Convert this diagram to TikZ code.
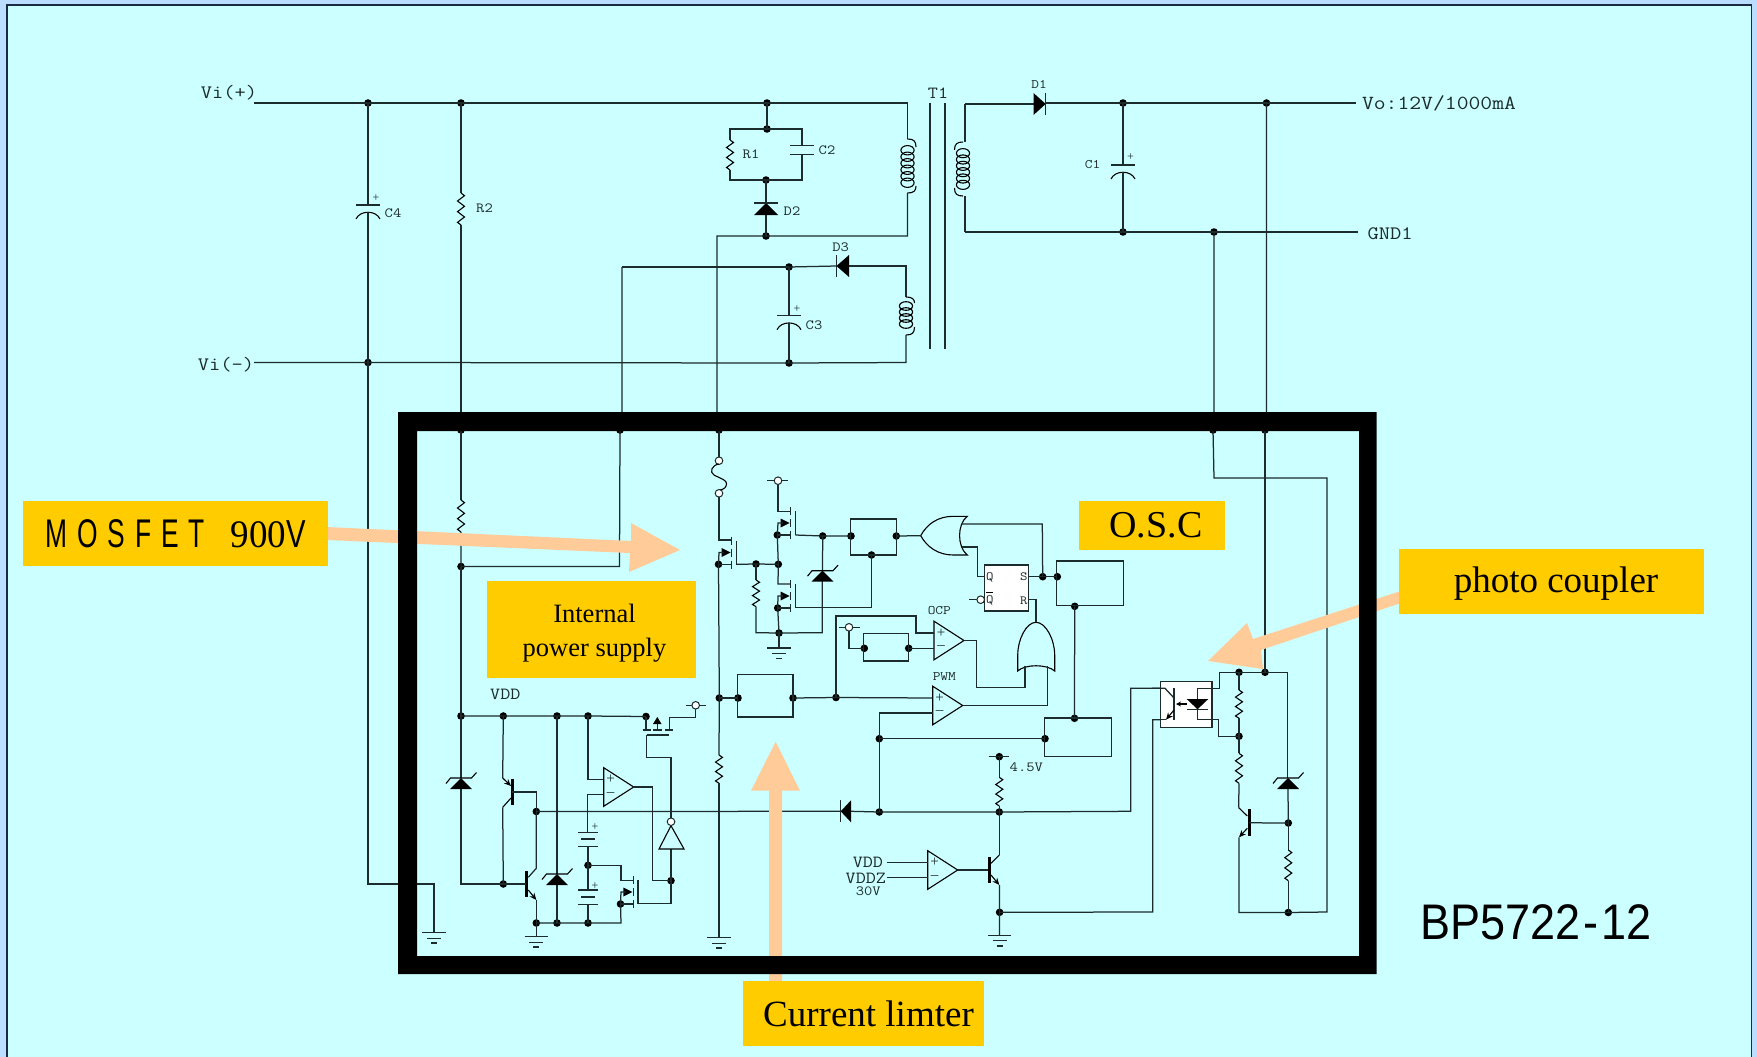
\documentclass[tikz,border=0pt]{standalone}
\usepackage{fontspec}
\setmainfont{Liberation Serif}
\newfontfamily\arialf{Liberation Sans}
\usetikzlibrary{arrows.meta}
\definecolor{pagebg}{HTML}{CCFFFF}
\definecolor{edgea}{HTML}{BBDDFF}
\definecolor{edgeline}{HTML}{1A2A40}
\definecolor{tagbox}{HTML}{FFCC00}
\definecolor{pointer}{HTML}{FFCC99}
\definecolor{ink}{HTML}{1C2B2B}
\tikzset{
  wire/.style={draw=ink,line width=1.25pt,line join=miter},
  rail/.style={draw=ink,line width=1.7pt},
  thin part/.style={draw=black,line width=1.1pt},
  lbl/.style={inner sep=0pt,outer sep=0pt,text=ink},
  tag/.style={fill=tagbox,draw=none,inner sep=0pt,outer sep=0pt,align=center,text=black},
  tagtext/.style={inner sep=0pt,outer sep=0pt,align=center,text=black},
  ptr/.style={fill=pointer,draw=none},
  whitebox/.style={fill=white,draw=ink,line width=1.3pt},
  bub/.style={fill=white,draw=ink,line width=1pt},
}
\newcommand\sMono[2]{{\fontsize{#1}{#1}\selectfont\ttfamily\scalebox{1.15}[1]{#2}}}
\newcommand\sJ[3]{\coordinate (#1) at (#2,#3); \fill[black] (#1) circle (3.8pt);}
\newcommand\sBub[2]{\draw[bub] (#1,#2) circle (3.8pt);}
\newcommand\sRes[3]{{\pgfmathsetmacro\st{(#3-#2)/6}%
  \draw[thin part] (#1,#2) -- ++(3.5,\st/2) -- ++(-7,\st) -- ++(7,\st) -- ++(-7,\st) -- ++(7,\st) -- ++(-7,\st) -- ++(3.5,\st/2);}}
\newcommand\sCoil[7]{%
  \draw[thin part] (#1,#3) .. controls ({#1+#2*6},#3) and ({#1+#2*8.5},{#3+2}) .. ({#1+#2*8.5},#5)
     ({#1+#2*8.5},#6) .. controls ({#1+#2*8.5},{#4-2}) and ({#1+#2*6},#4) .. (#1,#4);
  \foreach \i in {1,...,#7}{\pgfmathsetmacro\yy{#5+(\i-.5)*(#6-#5)/#7}\pgfmathsetmacro\ry{.72*(#6-#5)/#7}%
    \draw[thin part] (#1,\yy) ellipse (6.6pt and \ry pt);}}
\newcommand\sGnd[2]{\draw[wire] ({#1-11.7},#2) -- ({#1+11.7},#2) ({#1-7},{#2+5.5}) -- ({#1+7},{#2+5.5});
  \draw[draw=ink,line width=1.6pt] ({#1-3},{#2+10.5}) -- ({#1+3},{#2+10.5});}
\newcommand\sZen[2]{\fill[black] (#1,#2) -- ({#1+11},{#2+11}) -- ({#1-11},{#2+11}) -- cycle;
  \draw[thin part] ({#1-15},{#2+5.5}) -- ({#1-10.5},#2) -- ({#1+10.5},#2) -- ({#1+15.5},{#2-5.5});}
\newcommand\sCap[2]{\draw[wire] ({#1-12},#2) -- ({#1+12},#2);
  \draw[thin part] ({#1-12},{#2+14}) .. controls ({#1-8},{#2+5}) and ({#1+8},{#2+5}) .. ({#1+12},{#2+14});}
\newcommand\sCmp[3]{\draw[thin part,fill=pagebg] (#2,{#3-19.3}) -- ({#2+30},#3) -- (#2,{#3+19.3}) -- cycle;
  \node[lbl,font=\fontsize{15}{15}\selectfont] (#1p) at ({#2+7},{#3-7.5}) {+};
  \node[lbl,font=\fontsize{15}{15}\selectfont] (#1m) at ({#2+7},{#3+7.5}) {--};}
\newcommand\sFet[3]{% x of bar, centre y, gate offset
  \draw[wire] (#1,{#2-16}) -- (#1,{#2-8}) (#1,{#2-4}) -- (#1,{#2+4}) (#1,{#2+8}) -- (#1,{#2+16});
  \draw[wire] ({#1+#3},{#2-12}) -- ({#1+#3},{#2+12});
  \fill[black] ({#1-10},{#2-4.5}) -- ({#1-1},#2) -- ({#1-10},{#2+4.5}) -- cycle;}
\newcommand\sBat[2]{\draw[wire] ({#1-10},#2) -- ({#1+10},#2) ({#1-10},{#2+14.5}) -- ({#1+10},{#2+14.5});
  \draw[draw=ink,line width=1.8pt] ({#1-7},{#2+7}) -- ({#1+7},{#2+7});}
\begin{document}
\begin{tikzpicture}[x=1pt,y=-1pt]
\useasboundingbox (0,0) rectangle (1757,1057);
\clip (0,0) rectangle (1757,1057);
\fill[edgea] (0,0) rectangle (1757,1057);
\draw[fill=pagebg,draw=edgeline,line width=1.8pt] (7,5) rectangle (1751.5,1070);

% ---------- outer circuit junctions
\sJ{a1}{368}{103} \sJ{a2}{461}{103} \sJ{a3}{767}{103} \sJ{a4}{767}{129} \sJ{a5}{766}{180} \sJ{a6}{766}{236}
\sJ{c3t}{789}{267} \sJ{b1}{368}{362.5} \sJ{b2}{789}{363}
\sJ{o1}{1123}{103} \sJ{o2}{1266.5}{103} \sJ{o3}{1123}{232} \sJ{o4}{1214}{232}
\sJ{i1}{461}{430} \sJ{i2}{620}{430} \sJ{i3}{719}{430} \sJ{i4}{1213}{430} \sJ{i5}{1265}{430}
\coordinate (viptail) at (254,103); \coordinate (vimtail) at (254,362.5);
\coordinate (votail) at (1356,103); \coordinate (gndtail) at (1358,232);

\draw[rail] (viptail) -- (a1) -- (a2) -- (a3) -- (907.5,103);
\draw[wire] (907.5,103) -- (907.5,139);
\sCoil{907.5}{1}{139}{193}{147}{186}{6}
\draw[wire] (907.5,193) -- (907.5,236) -- (a6) -- (717,236) -- (717,420) -- (i3);
\draw[wire] (a3) -- (a4);
\draw[wire] (a4) -- (730,129) -- (730,140);
\sRes{730}{140}{170}
\draw[wire] (730,170) -- (730,180) -- (a5);
\draw[wire] (a4) -- (802,129) -- (802,145.7);
\draw[wire] (790,145.7) -- (814,145.7) (790,154.3) -- (814,154.3);
\draw[wire] (802,154.3) -- (802,180) -- (a5);
\draw[wire] (a5) -- (766,203);
\fill[black] (766,203) -- (778,215) -- (754,215) -- cycle;
\draw[wire] (754,203) -- (778,203);
\draw[wire] (766,215) -- (a6);
\draw[rail] (622,267) -- (c3t);
\draw[wire] (622,267) -- (622,420) -- (i2);
\draw[wire] (c3t) -- (836.5,266);
\fill[black] (836.5,266) -- (849,255) -- (849,277) -- cycle;
\draw[wire] (836.5,255) -- (836.5,277);
\draw[wire] (849,266) -- (906,266) -- (906,297);
\sCoil{906}{1}{297}{335}{303}{327}{4}
\draw[wire] (906,335) -- (906,362.5) -- (b2) -- (b1) -- (vimtail);
\draw[wire] (c3t) -- (789,315.7);
\sCap{789}{315.7}
\draw[wire] (789,322.5) -- (b2);
\draw[wire] (a1) -- (368,205);
\sCap{368}{205}
\draw[wire] (368,212) -- (b1);
\draw[wire] (b1) -- (368,884) -- (434,884) -- (434,932.7);
\sGnd{434}{932.7}
\draw[wire] (a2) -- (461,193);
\sRes{461}{193}{225}
\draw[wire] (461,225) -- (i1);
\draw[wire] (930,103) -- (930,349) (945,103) -- (945,349);
\draw[wire] (965,104) -- (965,142);
\sCoil{963}{-1}{142}{196}{150}{188}{6}
\draw[wire] (965,196) -- (965,232);
\draw[wire] (965,104) -- (1033.5,104);
\fill[black] (1033.5,93) -- (1045.7,104) -- (1033.5,115) -- cycle;
\draw[wire] (1045.7,93) -- (1045.7,115);
\draw[rail] (1045.7,103) -- (o1) -- (o2) -- (votail);
\draw[rail] (965,232) -- (o3) -- (o4) -- (gndtail);
\draw[wire] (o1) -- (1123,165);
\sCap{1123}{165}
\draw[wire] (1123,172) -- (o3);
\draw[wire] (o2) -- (1266.5,420) -- (i5);
\draw[wire] (o4) -- (1214,420) -- (i4);

% ---------- input rail and left block
\sJ{s1}{461}{566.5} \sJ{v1}{461}{716} \sJ{v2}{503.3}{716} \sJ{v3}{557}{716} \sJ{v4}{588}{716} \sJ{v5}{646}{716.5}
\sJ{q1}{503.3}{884} \sJ{n1}{536.3}{811.5} \sJ{g1}{536.3}{923} \sJ{g2}{557}{923} \sJ{g3}{588}{923} \sJ{g4}{620.5}{904}
\sJ{b3}{588}{865.3} \sJ{n2}{671}{880.7}
\draw[wire] (i1) -- (461,500);
\sRes{461}{500}{532}
\draw[wire] (461,532) -- (s1) -- (619.5,566.5) -- (i2);
\draw[wire] (s1) -- (v1);
\draw[wire] (v1) -- (461,778);
\sZen{461}{778}
\draw[wire] (461,789) -- (461,884) -- (q1);
\draw[wire] (v1) -- (v2) -- (v3) -- (v4) -- (v5);
% upper transistor
\draw[line width=3pt,draw=black] (512.3,779.3) -- (512.3,805);
\draw[wire] (v2) -- (502.7,778);
\draw[thin part,-{Stealth[length=7pt,width=6pt]}] (502.7,778) -- (511,786);
\draw[thin part] (511,798) -- (502.7,807.3);
\draw[wire] (502.7,807.3) -- (q1);
\draw[wire] (512.3,792) -- (536.3,792) -- (n1);
\draw[wire] (n1) -- (536.3,868.3) -- (528.3,877.3);
% lower transistor
\draw[line width=3pt,draw=black] (526.3,871) -- (526.3,897.3);
\draw[wire] (q1) -- (526.3,884);
\draw[thin part,-{Stealth[length=7pt,width=6pt]}] (528.3,890) -- (536.3,900);
\draw[wire] (536.3,900) -- (g1) -- (536.3,936.7);
\sGnd{536.3}{936.7}
\draw[wire] (g1) -- (g2) -- (g3) -- (621,923) -- (g4);
\draw[wire] (v3) -- (557,874);
\sZen{557}{874}
\draw[wire] (557,885) -- (g2);
% comparator and batteries
\draw[wire] (v4) -- (588,779.3) -- (603.7,779.3);
\draw[wire] (603.7,794.7) -- (587.7,794.7) -- (587.7,832.3);
\sCmp{ca}{603.7}{787}
\sBat{588}{832.3}
\draw[wire] (588,846.8) -- (b3);
\draw[wire] (b3) -- (588,890);
\sBat{588}{890}
\draw[wire] (588,904.5) -- (g3);
\draw[wire] (b3) -- (621,865.3) -- (621,880.5) -- (633.3,880.5);
\sFet{633.3}{892}{4.7}
\draw[wire] (g4) -- (621,892) -- (626,892);
\draw[wire] (g4) -- (633.3,904);
\draw[wire] (638,903.3) -- (671,903.3) -- (n2);
\draw[wire] (633.3,787) -- (652.3,787) -- (652.3,880.7) -- (n2);
\draw[wire] (n2) -- (671,849);
\draw[thin part] (671,825.7) -- (684,849) -- (659,849) -- cycle;
\draw[wire] (671,817.7) -- (671,757.7) -- (646.7,757.7) -- (646.7,735);
\sBub{671}{821.7}
% top PMOS
\draw[wire] (v5) -- (646,730);
\draw[wire] (642.7,730) -- (650.7,730) (653,730) -- (661.7,730) (665,730) -- (673,730);
\draw[wire] (646.7,735) -- (669.3,735);
\fill[black] (657.3,717) -- (661.5,724) -- (653,724) -- cycle;
\draw[wire] (657.3,724) -- (657.3,730);
\draw[wire] (669.3,730) -- (669.3,717.3) -- (695.7,717.3) -- (695.7,705.3);
\draw[wire] (686,705.3) -- (706,705.3);
\sBub{695.7}{705.3}

% ---------- centre block
\sJ{m1}{718.5}{564.3} \sJ{m2}{756}{564} \sJ{m3}{778.3}{564.3} \sJ{m4}{777.3}{535} \sJ{m5}{777.7}{608}
\sJ{m6}{779}{633} \sJ{z1}{822.7}{536} \sJ{bx1}{851}{536} \sJ{bx2}{896.3}{536} \sJ{bx3}{871.5}{555}
\sJ{m7}{719.3}{698} \sJ{bx4}{738}{698} \sJ{bx5}{793}{698} \sJ{m8}{836}{697.5}
\sJ{bx6}{864.3}{648.3} \sJ{bx7}{908.7}{648.3}
\sJ{ff1}{1042.7}{576.7} \sJ{ff2}{1057.3}{576.7} \sJ{ff3}{1074.7}{606.3}
\sJ{ff4}{1074.5}{718.3} \sJ{bx8}{1045}{738.7} \sJ{pw1}{879.3}{738.7}
\sJ{pw2}{879.3}{812} \sJ{pw3}{999.3}{812}
\sJ{vt}{999.3}{756.7} \sJ{pw4}{999.6}{912.3}
\draw[wire] (i3) -- (719,457);
\sBub{719}{460.7}
\draw[thin part] (719,464) .. controls (712,465) and (709,472) .. (714,475) .. controls (719,478) and (729,480) .. (726,486) .. controls (725,489) and (721,490) .. (719,490);
\sBub{719}{493.3}
\draw[wire] (719,497) -- (719,540) -- (731.7,540);
\sFet{731.7}{552.5}{5}
\draw[wire] (m1) -- (719,552.5) -- (724,552.5);
\draw[wire] (m1) -- (731.7,564.3);
\draw[wire] (736.7,564.3) -- (m2) -- (m3);
\draw[wire] (m1) -- (m7) -- (719,755);
\sRes{719}{755}{783.3}
\draw[wire] (719,783.3) -- (719,937.7);
\sGnd{719}{937.7}
% second and third FET
\draw[wire] (778,480.7) -- (778,511.3) -- (790.7,511.3);
\draw[wire] (767.3,480.7) -- (788,480.7);
\sBub{778}{480.7}
\sFet{790.7}{523}{4.6}
\draw[wire] (m4) -- (778,523) -- (783,523);
\draw[wire] (m4) -- (790.7,535);
\draw[wire] (m4) -- (m3);
\draw[wire] (m3) -- (778,584) -- (790.7,584);
\sFet{790.7}{596}{4.6}
\draw[wire] (m5) -- (778,596) -- (783,596);
\draw[wire] (m5) -- (790.7,608);
\draw[wire] (m5) -- (m6);
\draw[wire] (m6) -- (779,648);
\sGnd{779}{648}
\draw[wire] (795.3,535) -- (z1) -- (bx1);
\draw[wire] (795.3,607.3) -- (871.5,607.3) -- (bx3);
\draw[wire] (m2) -- (756,580);
\sRes{756}{580}{606.7}
\draw[wire] (756,606.7) -- (756,632.7) -- (m6) -- (822.3,632.7) -- (822.3,581);
\draw[wire] (z1) -- (822.5,570.7);
\sZen{822.5}{570.7}
% boxes
\draw[wire] (850.3,519) rectangle (896.3,555);
\draw[wire] (737.3,674.7) rectangle (793,717);
\draw[wire] (863.7,633.7) rectangle (908.7,661);
\draw[wire] (1056.7,561) rectangle (1123.3,605.7);
\draw[wire] (1044.7,718) rectangle (1111.7,756.7);
% OR gate horizontal
\draw[thin part] (920.7,535.7) .. controls (927,524) and (938,516.3) .. (953.3,516.3) -- (967.3,516.3)
   .. controls (957,524) and (957,547) .. (967.3,555) -- (953.3,555) .. controls (938,555) and (927,547) .. (920.7,535.7);
\draw[wire] (bx2) -- (920.7,535.7);
\draw[wire] (962,524) -- (1042.3,524) -- (ff1);
\draw[wire] (962,547) -- (977.3,547) -- (977.3,576.7) -- (984.3,576.7);
% flip-flop
\node[whitebox,minimum width=44.4pt,minimum height=46pt,inner sep=0pt,outer sep=0pt] (ffbox) at (1006.5,588) {};
\node[lbl] (ffq) at (989.8,577) {\sMono{12.5}{Q}};
\node[lbl] (ffqn) at (989.8,600.5) {\sMono{12.5}{Q}};
\draw[thin part] (986,592.3) -- (993.3,592.3);
\node[lbl] (ffs) at (1023.8,577) {\sMono{12.5}{S}};
\node[lbl] (ffr) at (1023.8,600.5) {\sMono{12.5}{R}};
\draw[wire] (969.3,599.7) -- (977,599.7);
\sBub{980.7}{599.7}
\draw[wire] (1028.7,576.7) -- (ff1) -- (ff2);
\draw[wire] (1028.7,599.7) -- (1036,599.7) -- (1036,622.3);
\draw[wire] (ff3) -- (ff4);
% OR gate vertical
\draw[thin part] (1036,622.3) .. controls (1046,622.3) and (1054.7,640) .. (1054.7,655) -- (1054.7,671)
   .. controls (1047,664) and (1025,664) .. (1017.7,671) -- (1017.7,655) .. controls (1017.7,640) and (1026,622.3) .. (1036,622.3);
% comparators
\sCmp{ocp}{934}{640.5}
\sCmp{pwm}{932.7}{705.5}
\node[lbl] (locp) at (939.3,611) {\sMono{13}{OCP}};
\node[lbl] (lpwm) at (944.3,677) {\sMono{13}{PWM}};
\draw[wire] (964,640.5) -- (976.7,640.5) -- (976.7,687.7) -- (1025,687.7) -- (1025,666);
\draw[wire] (962.7,705.5) -- (1047.3,705.5) -- (1047.3,666);
\draw[wire] (m7) -- (bx4);
\draw[wire] (bx5) -- (m8) -- (932.7,698);
\draw[wire] (m8) -- (836,616) -- (916,616) -- (916,633) -- (934,633);
\draw[wire] (bx7) -- (934,648.3);
\draw[wire] (bx6) -- (849,648.3) -- (849,627.3);
\draw[wire] (839.3,627.3) -- (860,627.3);
\sBub{849}{627.3}
\draw[wire] (932.7,713) -- (879.3,713) -- (pw1);
\draw[wire] (pw1) -- (bx8);
\draw[wire] (pw1) -- (pw2);
% main horizontal
\draw[wire] (n1) -- (840.7,811.3);
\fill[black] (840.7,811.3) -- (851,800.3) -- (851,822.3) -- cycle;
\draw[wire] (840.7,800.3) -- (840.7,822.3);
\draw[wire] (851,811.3) -- (pw2) -- (pw3) -- (1130.7,811.3) -- (1130.7,688.3) -- (1165,688.3);
\draw[wire] (pw3) -- (999.3,806);
\sRes{999.3}{777.3}{806}
\draw[wire] (999.3,777.3) -- (vt);
\draw[wire] (988.7,756.7) -- (1009.3,756.7);
% VDD comparator + transistor
\sCmp{cv}{927.7}{870}
\coordinate (vddin) at (886.7,862.7); \coordinate (vdzin) at (886.7,877.7);
\draw[wire] (vddin) -- (927.7,862.7) (vdzin) -- (927.7,877.7);
\draw[wire] (957.7,870) -- (989,870);
\draw[line width=3pt,draw=black] (989,856.7) -- (989,883.3);
\draw[thin part] (991,863.3) -- (999.3,855);
\draw[wire] (999.3,855) -- (pw3);
\draw[thin part,-{Stealth[length=7pt,width=6pt]}] (991,875) -- (999.3,885);
\draw[wire] (999.5,885) -- (pw4) -- (999.6,935.3);
\sGnd{999.6}{935.3}
\draw[wire] (pw4) -- (1152.7,912) -- (1152.7,719.7) -- (1166,719.7);

% ---------- right block
\sJ{r1}{1239}{672.3} \sJ{r2}{1265}{672.3} \sJ{r3}{1239}{736.3} \sJ{r4}{1288.3}{823} \sJ{r5}{1288.3}{912.5}
\draw[wire] (i5) -- (r2);
\draw[wire] (i4) -- (1214,478) -- (1327,478) -- (1327,912) -- (r5) -- (1239,912.5) -- (1239,837.3);
\draw[wire] (r1) -- (r2) -- (1287.7,672.3) -- (1287.7,778);
\sZen{1288}{778}
\draw[wire] (1288,789) -- (r4);
\draw[wire] (r4) -- (1288.3,850);
\sRes{1288.3}{850}{880.7}
\draw[wire] (1288.3,880.7) -- (r5);
\draw[wire] (r1) -- (1239,690);
\sRes{1239}{690}{718.3}
\draw[wire] (1239,718.3) -- (r3);
\draw[wire] (r3) -- (1239,753.3);
\sRes{1239}{753.3}{783.3}
\draw[wire] (1239,783.3) -- (1238.7,807.7);
\draw[thin part] (1238.7,807.7) -- (1247.3,816);
\draw[line width=3pt,draw=black] (1249,809.3) -- (1249,836);
\draw[wire] (1249,822.8) -- (r4);
\draw[thin part,{Stealth[length=7pt,width=6pt]}-] (1239,837.3) -- (1247.3,828.3);
% opto-coupler
\node[whitebox,minimum width=51.3pt,minimum height=46pt,inner sep=0pt,outer sep=0pt] (opto) at (1186.3,704.3) {};
\draw[wire] (1152,688.3) -- (1165,688.3) -- (1174,698);
\draw[wire] (1174,688.3) -- (1174,720);
\draw[wire] (1152.7,719.7) -- (1166,719.7);
\draw[thin part,{Stealth[length=7pt,width=6pt]}-] (1166,719.7) -- (1174,710);
\draw[thin part,-{Stealth[length=5pt,width=5pt]}] (1186.7,704) -- (1176,704);
\fill[black] (1186.7,699) -- (1208.3,699) -- (1197.5,709.3) -- cycle;
\draw[wire] (1187,709.3) -- (1208,709.3);
\draw[wire] (1197.3,699) -- (1197.3,688.3) -- (1219.3,688.3) -- (1219.3,672.3) -- (r1);
\draw[wire] (1197.3,709.3) -- (1197.3,719.7) -- (1218.3,719.7) -- (1218.3,736.3) -- (r3);

% ---------- pointers
\fill[ptr] (320,526.7) -- (631,541) -- (631,523) -- (680,550) -- (629,572) -- (630,553) -- (320,539.7) -- cycle;
\fill[ptr] (1410,588) -- (1253,639) -- (1247,623) -- (1208,661) -- (1263,669) -- (1261,650) -- (1410,600) -- cycle;
\fill[ptr] (775.7,741.7) -- (800,790.7) -- (782,790.7) -- (782,990) -- (769,990) -- (769,790.7) -- (751,790.7) -- cycle;

% ---------- IC frame
\fill[black,even odd rule] (398,412) rectangle (1376.5,974) (417,431) rectangle (1359,956);

% ---------- tags
\node[tag,minimum width=305pt,minimum height=65pt] (tmos) at (175.5,533.5) {{\arialf\fontsize{40}{40}\selectfont\scalebox{.66}[1]{M\kern15pt O\kern15pt S\kern15pt F\kern15pt E\kern15pt T}}\hspace{26pt}{\fontsize{39}{39}\selectfont\scalebox{.95}[1]{900}{\arialf\scalebox{.75}[1]{V}}}};
\node[tag,minimum width=209pt,minimum height=97pt] (tint) at (591.5,629.5) {};
\node[tagtext,font=\fontsize{26.5}{34}\selectfont] (tintx) at (594.5,633) {Internal\\power supply};
\node[tag,minimum width=146pt,minimum height=49pt,font=\fontsize{38}{38}\selectfont] (tosc) at (1152,525.5) {\kern8pt O.S.C};
\node[tag,minimum width=305pt,minimum height=65pt] (tpho) at (1551.5,581) {};
\node[tagtext,font=\fontsize{37}{37}\selectfont] (tphox) at (1556,584) {photo coupler};
\node[tag,minimum width=241pt,minimum height=65pt,font=\fontsize{37}{37}\selectfont] (tcur) at (863.5,1013.5) {\kern10pt Current limter};
\node[inner sep=0pt,text=black] (tbp) at (1536,922) {\arialf\fontsize{50}{50}\selectfont\scalebox{.9}[1]{BP5722\kern3pt-\kern3pt 12}};

% ---------- labels
\node[lbl] (lvip) at (229,93) {\sMono{19}{Vi(+)}};
\node[lbl] (lvim) at (226,365) {\sMono{19}{Vi(-)}};
\node[lbl] (lt1) at (938,93) {\sMono{17}{T1}};
\node[lbl] (ld1) at (1039,84) {\sMono{13}{D1}};
\node[lbl] (ld2) at (792,211) {\sMono{14}{D2}};
\node[lbl] (ld3) at (840.6,247) {\sMono{14}{D3}};
\node[lbl] (lr1) at (751,154) {\sMono{14}{R1}};
\node[lbl] (lc2) at (827,150) {\sMono{14}{C2}};
\node[lbl] (lr2) at (484.5,208) {\sMono{14}{R2}};
\node[lbl] (lc4) at (393,213) {\sMono{14}{C4}};
\node[lbl] (lc3) at (814,325) {\sMono{14}{C3}};
\node[lbl] (lc1) at (1092.6,165) {\sMono{13}{C1}};
\node[lbl,font=\fontsize{12}{12}\selectfont] (pc4) at (376,198) {+};
\node[lbl,font=\fontsize{12}{12}\selectfont] (pc3) at (797,309) {+};
\node[lbl,font=\fontsize{12}{12}\selectfont] (pc1) at (1130.6,157) {+};
\node[lbl,font=\fontsize{12}{12}\selectfont] (pb1) at (595,827.3) {+};
\node[lbl,font=\fontsize{12}{12}\selectfont] (pb2) at (595,885.7) {+};
\node[lbl] (lvo) at (1439,103) {\sMono{20}{Vo:12V/1000mA}};
\node[lbl] (lg1) at (1390,234) {\sMono{19}{GND1}};
\node[lbl] (lvdd) at (505.3,694) {\sMono{17}{VDD}};
\node[lbl,anchor=east] (lvd2) at (883,862.3) {\sMono{17}{VDD}};
\node[lbl,anchor=east] (lvdz) at (886,878.3) {\sMono{17}{VDDZ}};
\node[lbl] (l30) at (868.3,891.7) {\sMono{14}{30V}};
\node[lbl] (l45) at (1026.3,767.3) {\sMono{14}{4.5V}};
\end{tikzpicture}
\end{document}
